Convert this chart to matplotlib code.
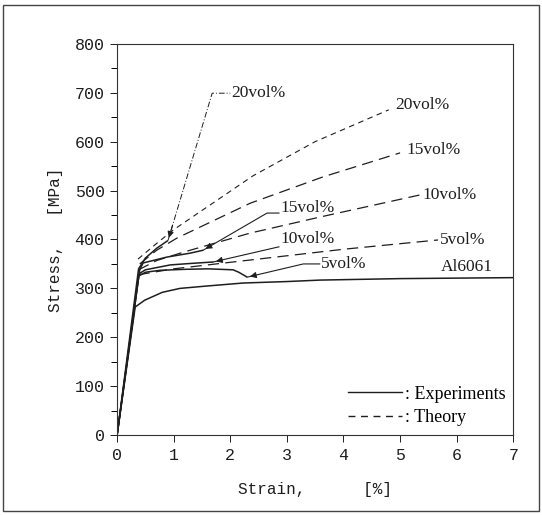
import matplotlib.pyplot as plt
from matplotlib.patches import Rectangle
from matplotlib.lines import Line2D

plt.rcParams['font.family'] = ['Liberation Serif', 'DejaVu Serif']

# experiments (solid), strain [%] vs stress [MPa]
al_x = [0, 0.32, 0.49, 0.8, 1.11, 1.6, 2.23, 3.0, 3.59, 5.0, 7.0]
al_y = [0, 262, 276, 292, 300, 305, 311, 314, 317, 320, 322]
e5_x = [0, 0.38, 0.5, 0.76, 1.2, 1.6, 2.05, 2.15, 2.3]
e5_y = [0, 325, 333, 337, 339, 340, 338, 333, 323]
e10_x = [0, 0.39, 0.5, 0.94, 1.3, 1.70]
e10_y = [0, 330, 338, 348, 351, 354]
e15_x = [0, 0.40, 0.46, 0.88, 1.29, 1.52]
e15_y = [0, 338, 352, 364, 372, 378]
e20_x = [0, 0.38, 0.5, 0.7, 0.9]
e20_y = [0, 340, 362, 382, 398]

# theory (dashed)
t5_x = [0.38, 1.0, 2.35, 4.0, 5.67]
t5_y = [328, 340, 358, 380, 399]
t10_x = [0.38, 0.7, 1.17, 2.35, 3.59, 5.35]
t10_y = [338, 357, 374, 413, 446, 491]
t15_x = [0.40, 0.7, 1.06, 2.35, 3.64, 5.0]
t15_y = [350, 378, 403, 474, 528, 577]
t20_x = [0.37, 0.7, 1.0, 2.4, 3.5, 4.8]
t20_y = [360, 392, 420, 530, 600, 665]

ink = '#1e1e1e'
mono = ['Liberation Mono', 'DejaVu Sans Mono']

fig = plt.figure(figsize=(5.42, 5.15), dpi=100)
ax = fig.add_axes([0.216, 0.155, 0.731, 0.760])

# outer frame of the scanned figure
fig.patches.append(Rectangle((0.005, 0.008), 0.990, 0.982, transform=fig.transFigure,
                             fill=False, lw=1.0, ec='#444444'))

for x, y in [(al_x, al_y), (e5_x, e5_y), (e10_x, e10_y), (e15_x, e15_y), (e20_x, e20_y)]:
    ax.plot(x, y, color=ink, lw=1.1, solid_capstyle='butt')

ax.plot(t20_x, t20_y, color=ink, lw=0.8, dashes=(5, 4))
for x, y in [(t15_x, t15_y), (t10_x, t10_y), (t5_x, t5_y)]:
    ax.plot(x, y, color=ink, lw=0.9, dashes=(9, 5))

lab = dict(fontsize=12.5, color=ink, va='center')

# theory labels at right end
ax.text(4.92, 675, '20vol%', **lab)
ax.text(5.12, 583, '15vol%', **lab)
ax.text(5.40, 491, '10vol%', **lab)
ax.text(5.70, 399, '5vol%', **lab)
ax.text(5.72, 343, 'Al6061', **lab)

# leaders from end of experimental curves
leaders = [
    (e20_x[-1], e20_y[-1], [1.68, 2.0], [699, 699], '20vol%', (2.02, 699), (0, (6, 2, 1, 2)), 0.7),
    (e15_x[-1], e15_y[-1], [2.65, 2.86], [454, 454], '15vol%', (2.88, 464), '-', 0.8),
    (e10_x[-1], e10_y[-1], [2.86], [385], '10vol%', (2.88, 400), '-', 0.8),
    (e5_x[-1], e5_y[-1], [3.29, 3.58], [350, 350], '5vol%', (3.60, 350), '-', 0.8),
]
for x0, y0, bx, by, txt, pos, ls, lw in leaders:
    ax.plot([x0] + bx, [y0] + by, color=ink, lw=lw, linestyle=ls)
    dx, dy = bx[0] - x0, by[0] - y0
    ax.annotate('', xy=(x0, y0), xytext=(x0 + dx * 0.12, y0 + dy * 0.12),
                arrowprops=dict(arrowstyle='-|>', color=ink, lw=0.8, mutation_scale=9))
    ax.text(pos[0], pos[1], txt, **lab)

# legend
handles = [Line2D([], [], color=ink, lw=1.0),
           Line2D([], [], color=ink, lw=1.0, dashes=(5, 4))]
ax.legend(handles, [': Experiments', ': Theory'], loc='lower right',
          bbox_to_anchor=(1.0, 0.005), frameon=False, fontsize=13,
          handlelength=3.0, handletextpad=0.2, borderaxespad=0.0, labelspacing=0.35)

ax.set_xlim(0, 7)
ax.set_ylim(0, 800)
ax.set_xticks(range(0, 8))
ax.set_yticks(range(0, 801, 100))
ax.set_yticks(range(50, 800, 100), minor=True)
ax.tick_params(axis='both', which='major', direction='out', length=5, width=0.7,
               labelsize=12, colors=ink, pad=4)
ax.tick_params(axis='y', which='minor', direction='out', length=4, width=0.7)
for t in ax.get_xticklabels() + ax.get_yticklabels():
    t.set_family(mono)
for s in ax.spines.values():
    s.set_linewidth(0.8)
    s.set_color('#333333')

ax.set_xlabel('Strain,      [%]', fontsize=11.5, color=ink, labelpad=14, family=mono)
ax.set_ylabel('Stress,   [MPa]', fontsize=11.5, color=ink, labelpad=8, family=mono)

fig.savefig('out.png', dpi=100)
